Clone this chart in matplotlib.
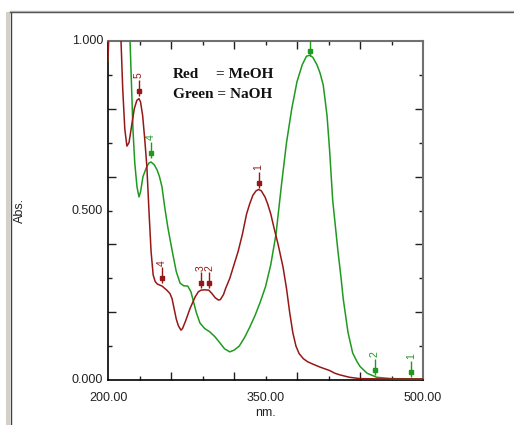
import matplotlib
matplotlib.use("Agg")
import matplotlib.pyplot as plt
from matplotlib.patches import Rectangle
from matplotlib.lines import Line2D

# ---- data ----
red_nm = [200, 202, 206, 210, 212.4, 214, 216, 218, 220, 222, 225, 227.5, 229.5, 231, 233, 235,
          237, 239, 241, 243, 245, 247, 251.5, 256, 259, 261, 263, 265, 267, 269.5, 271, 274,
          278, 283, 286, 288.6, 292, 296, 299, 302, 305, 307, 310, 312, 316, 320, 324, 328,
          332, 335, 338, 341, 343.5, 346, 349.5, 352, 355, 358, 362, 366.7, 370, 373, 376,
          379, 382, 386, 390, 395, 402, 411, 416, 421, 430, 440, 470, 500]
red_abs = [0.94, 1.2, 1.5, 1.2, 1.0, 0.86, 0.74, 0.69, 0.70, 0.74, 0.80, 0.825, 0.83, 0.82, 0.78, 0.71,
           0.63, 0.50, 0.38, 0.31, 0.29, 0.283, 0.277, 0.265, 0.255, 0.24, 0.21, 0.18, 0.16, 0.147, 0.152, 0.175,
           0.21, 0.245, 0.26, 0.265, 0.266, 0.265, 0.255, 0.243, 0.236, 0.237, 0.252, 0.27, 0.30, 0.34, 0.38, 0.43,
           0.49, 0.52, 0.545, 0.558, 0.562, 0.558, 0.54, 0.52, 0.49, 0.45, 0.40, 0.333, 0.27, 0.20, 0.14,
           0.10, 0.078, 0.063, 0.054, 0.047, 0.038, 0.028, 0.02, 0.015, 0.008, 0.004, 0.003, 0.003]

green_nm = [200, 202, 206, 212, 218, 221, 223.8, 225.5, 227.6, 229.5, 231, 233.3, 237, 239, 241,
            244, 246.7, 249, 251.4, 254, 257, 261, 265, 268.6, 272, 276, 279, 281, 284, 287.6,
            292, 297, 302, 306.7, 311, 316, 320, 325, 330, 335, 340, 345, 350, 355, 360, 365,
            370, 375, 380, 385, 389, 392, 395, 399, 402, 405, 408.6, 411, 414, 417, 419, 422,
            424, 428.6, 433, 437, 440, 446.7, 456, 470, 500]
green_abs = [0.94, 1.2, 1.5, 1.5, 1.2, 1.0, 0.737, 0.64, 0.57, 0.54, 0.555, 0.60, 0.63, 0.64, 0.643,
             0.635, 0.62, 0.60, 0.57, 0.51, 0.45, 0.383, 0.32, 0.286, 0.278, 0.277, 0.26, 0.236, 0.20, 0.168,
             0.152, 0.142, 0.127, 0.109, 0.092, 0.083, 0.088, 0.10, 0.125, 0.156, 0.19, 0.23, 0.275, 0.34, 0.43, 0.57,
             0.70, 0.80, 0.88, 0.93, 0.955, 0.958, 0.952, 0.93, 0.905, 0.87, 0.78, 0.68, 0.53, 0.44, 0.38, 0.30,
             0.24, 0.14, 0.08, 0.055, 0.04, 0.02, 0.008, 0.004, 0.003]

# peak picks: label, wavelength, marker height
red_pk_lbl = ["1", "2", "3", "4", "5"]
red_pk_nm = [343.5, 296.5, 288.2, 251.4, 229.5]
red_pk_abs = [0.581, 0.286, 0.286, 0.300, 0.853]

green_pk_lbl = ["1", "2", "3", "4"]
green_pk_nm = [488.6, 454, 392, 241]
green_pk_abs = [0.024, 0.030, 0.970, 0.670]

x_tick_labels = ["200.00", "350.00", "500.00"]
x_tick_vals = [200, 350, 500]
y_tick_labels = ["0.000", "0.500", "1.000"]
y_tick_vals = [0.0, 0.5, 1.0]

legend_lines = [("Red", "= MeOH"), ("Green", "= NaOH")]

RED = "#951818"
GREEN = "#1f9a1f"

W, H = 514, 425
fig = plt.figure(figsize=(W / 100, H / 100), dpi=100)
fig.patch.set_facecolor("white")

# window frame decorations
fig.add_artist(Rectangle((6 / W, 0), 4 / W, (H - 12) / H, transform=fig.transFigure,
                         facecolor="#d4d0c8", edgecolor="none"))
fig.add_artist(Line2D([10.5 / W, 10.5 / W], [0, (H - 12) / H], transform=fig.transFigure,
                      color="#404040", lw=1.0))
fig.add_artist(Line2D([10 / W, 1], [(H - 11.5) / H, (H - 11.5) / H], transform=fig.transFigure,
                      color="#404040", lw=1.0))
fig.add_artist(Line2D([10 / W, 1], [(H - 10.5) / H, (H - 10.5) / H], transform=fig.transFigure,
                      color="#b0b0b0", lw=1.0))

ax = fig.add_axes([108 / W, (H - 380) / H, 315 / W, 339 / H])
ax.set_xlim(200, 500)
ax.set_ylim(0, 1.0)

ax.plot(green_nm, green_abs, color=GREEN, lw=1.1, zorder=3)
ax.plot(red_nm, red_abs, color=RED, lw=1.1, zorder=4)

def picks(nms, abss, lbls, color):
    for n, a, l in zip(nms, abss, lbls):
        ax.vlines(n, a - 0.015, a + 0.033, color=color, lw=1.0, zorder=5)
        ax.plot([n], [a], "s", color=color, ms=3.2, zorder=6)
        ax.text(n, a + 0.037, l, rotation=90, ha="center", va="bottom", color=color,
                fontsize=7.5, family="Liberation Sans", clip_on=True, zorder=6)

picks(red_pk_nm, red_pk_abs, red_pk_lbl, RED)
picks(green_pk_nm, green_pk_abs, green_pk_lbl, GREEN)

# ticks
ax.set_xticks([260, 320, 380, 440])
ax.set_xticks([230, 290, 350, 410, 470], minor=True)
ax.set_yticks([0.2, 0.4, 0.6, 0.8])
ax.set_yticks([0.1, 0.3, 0.5, 0.7, 0.9], minor=True)
ax.tick_params(which="both", direction="in", top=True, right=True,
               labelbottom=False, labelleft=False, color="#202020", width=1.0)
ax.tick_params(which="major", length=6)
ax.tick_params(which="minor", length=3)

for s in ("left", "bottom"):
    ax.spines[s].set_color("#000000")
    ax.spines[s].set_linewidth(1.2)
for s in ("top", "right"):
    ax.spines[s].set_color("#707070")
    ax.spines[s].set_linewidth(1.5)

tf = "Liberation Sans"
tc = "#222222"
for v, l in zip(x_tick_vals, x_tick_labels):
    ax.text(v, -0.053, l, ha="center", va="center", fontsize=9, family=tf, color=tc,
            transform=ax.get_xaxis_transform())
for v, l in zip(y_tick_vals, y_tick_labels):
    ax.text(-5 / 315, v, l, ha="right", va="center", fontsize=9, family=tf, color=tc,
            transform=ax.get_yaxis_transform())

fig.text(265 / W, (H - 413) / H, "nm.", ha="center", va="center", fontsize=9, family=tf, color=tc)
fig.text(20 / W, (H - 210) / H, "Abs.", ha="center", va="center", fontsize=9, family=tf,
         color=tc, rotation=90)

# legend text
lf = dict(family="Liberation Serif", weight="bold", fontsize=11, color="#111111",
          ha="left", va="center")
fig.text(173 / W, (H - 74) / H, legend_lines[0][0], **lf)
fig.text(216 / W, (H - 74) / H, legend_lines[0][1], **lf)
fig.text(173 / W, (H - 95) / H, legend_lines[1][0] + " " + legend_lines[1][1], **lf)

fig.savefig("out.png", dpi=100)
